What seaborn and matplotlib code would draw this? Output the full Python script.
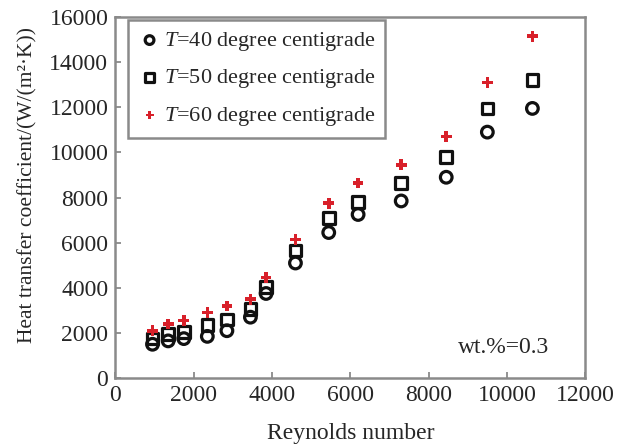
import pandas as pd
import matplotlib
matplotlib.use('Agg')
import matplotlib.pyplot as plt
import seaborn as sns

# Reynolds numbers (x) and heat transfer coefficients for each temperature
reynolds = [950, 1350, 1750, 2350, 2850, 3450, 3850, 4600, 5450, 6200, 7300, 8450, 9500, 10650]
htc_40 = [1500, 1650, 1750, 1850, 2100, 2700, 3750, 5100, 6450, 7250, 7850, 8900, 10900, 11950]
htc_50 = [1750, 1950, 2050, 2350, 2600, 3050, 4050, 5650, 7100, 7800, 8650, 9800, 11950, 13200]
htc_60 = [2100, 2400, 2550, 2900, 3200, 3500, 4450, 6150, 7750, 8650, 9450, 10700, 13100, 15150]

series_labels = [
	r'$\it{T}$=40 degree centigrade',
	r'$\it{T}$=50 degree centigrade',
	r'$\it{T}$=60 degree centigrade',
]

x_ticks = [0, 2000, 4000, 6000, 8000, 10000, 12000]
y_ticks = [0, 2000, 4000, 6000, 8000, 10000, 12000, 14000, 16000]

sns.set_style('ticks')
plt.rcParams['font.family'] = ['Liberation Serif', 'DejaVu Serif']
plt.rcParams['mathtext.fontset'] = 'custom'
plt.rcParams['mathtext.rm'] = 'Liberation Serif'
plt.rcParams['mathtext.it'] = 'Liberation Serif:italic'

df = pd.DataFrame({
	'Re': reynolds * 3,
	'h': htc_40 + htc_50 + htc_60,
	'series': [series_labels[0]] * len(reynolds) + [series_labels[1]] * len(reynolds)
	+ [series_labels[2]] * len(reynolds),
})

fig = plt.figure(figsize=(6.3, 4.48), dpi=100)
ax = fig.add_axes([0.183, 0.156, 0.746, 0.806])

styles = {
	series_labels[0]: dict(marker='o', s=70, facecolors='none', edgecolors='#111111', linewidths=2.3),
	series_labels[1]: dict(marker='s', s=70, facecolors='none', edgecolors='#111111', linewidths=2.3),
	series_labels[2]: dict(marker='P', s=60, color='#d8202a', edgecolors='none', linewidths=0),
}

for lab in series_labels:
	sub = df[df['series'] == lab]
	sns.scatterplot(data=sub, x='Re', y='h', ax=ax, label=lab, **styles[lab])

ax.set_xlim(0, 12000)
ax.set_ylim(0, 16000)
ax.set_xticks(x_ticks)
ax.set_yticks(y_ticks)
ax.tick_params(direction='in', length=4, width=1.2, color='#808080', labelsize=17, pad=5)

for sp in ax.spines.values():
	sp.set_color('#8a8a8a')
	sp.set_linewidth(1.8)

ax.set_xlabel('Reynolds number', fontsize=17, labelpad=12)
ax.set_ylabel('Heat transfer coefficient/(W/(m²·K))', fontsize=15.5)
ax.yaxis.set_label_coords(-0.165, 0.535)

ax.text(8750, 1350, 'wt.%=0.3', fontsize=17, va='center', ha='left')

leg = ax.legend(loc='upper left', bbox_to_anchor=(0.028, 0.992), borderaxespad=0,
				fontsize=16, frameon=True, fancybox=False,
				handletextpad=0.15, handlelength=1.0, borderpad=0.45, labelspacing=0.65,
				markerscale=0.75)
leg.get_frame().set_edgecolor('#8a8a8a')
leg.get_frame().set_linewidth(1.8)
leg.get_frame().set_alpha(1)

plt.savefig('out.png', dpi=100)
